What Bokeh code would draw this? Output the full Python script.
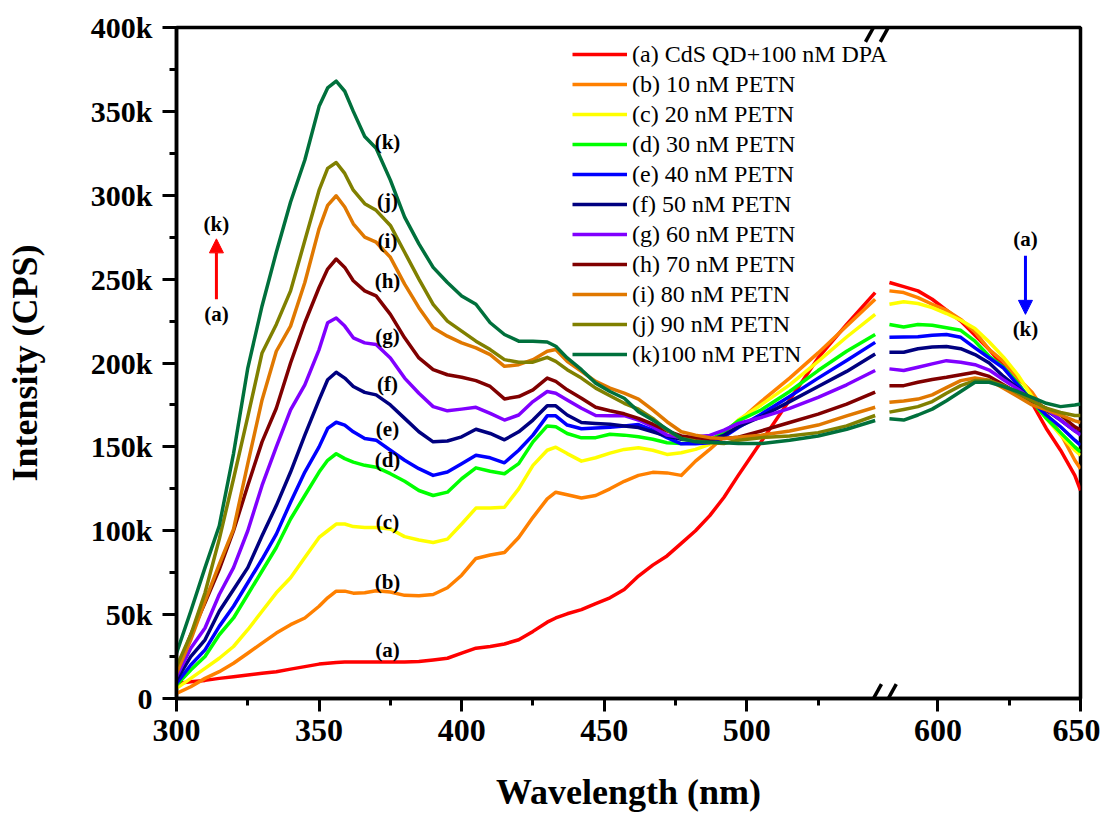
import math
from bokeh.plotting import figure
from bokeh.models import (FixedTicker, Legend, LegendItem, Label,
                          Arrow, NormalHead, Range1d)
from bokeh.core.properties import value
from bokeh.embed import file_html
from bokeh.resources import INLINE

# ---------------- data (wavelength in nm, intensity in thousands of CPS) -------------
wl_left = [300, 305, 310, 315, 320, 325, 330, 335, 340, 345, 350, 353, 356, 359, 362,
           366, 370, 375, 380, 385, 390, 395, 400, 405, 410, 415, 420, 425, 430, 433,
           437, 442, 447, 452, 457, 462, 467, 472, 477, 482, 487, 492, 497, 505, 515,
           525, 535, 545]
wl_right = [583, 588, 593, 598, 603, 608, 613, 618, 623, 628, 633, 638, 643, 648, 650]

curve_a = [9, 10, 10.8, 12, 13, 14, 15, 16, 17.5, 19, 20.5, 21, 21.5, 21.8, 21.8,
           21.8, 21.8, 21.8, 21.8, 22, 23, 24, 27, 30, 31, 32.5, 35, 40, 45.5, 48,
           50.5, 53, 56.5, 60, 65, 73, 79.5, 85, 92.5, 100, 109, 120, 133, 153, 178,
           203, 223, 242,
           248, 245.5, 243, 238, 231.5, 225, 216.5, 208, 198, 188, 176, 161, 148, 133, 124]
curve_b = [3, 7, 12, 16, 21, 27, 33, 39, 44, 48, 55, 60, 64, 64, 62.8,
           63, 64.2, 63.5, 61.5, 61.3, 62, 66, 73.5, 83.5, 85.5, 87, 96, 108, 119, 123,
           121.5, 119.5, 121, 125, 129.5, 133, 134.8, 134.5, 133, 141.5, 148.5, 156, 165, 177, 191,
           206, 222, 238,
           243, 242, 239, 235, 231.5, 226, 218.5, 208, 201, 191, 182.5, 170, 158, 142, 137]
curve_c = [6, 12, 18, 24, 31, 41, 52, 63, 72, 84, 96, 100, 104, 104, 102.5,
           102, 102, 101, 96.5, 94.5, 93, 95, 104, 113.5, 113.5, 114, 125, 139, 148, 149.8,
           146, 141.5, 143.5, 146.3, 148.5, 149.5, 148, 145.5, 146.5, 148.5, 151.5, 157.5, 166, 175, 187,
           201, 215.5, 229,
           235, 236.5, 235.5, 233, 229.5, 225.5, 220.5, 212.5, 203.5, 193, 180, 167, 157, 148, 145]
curve_d = [8, 17, 25, 38, 48, 62, 76, 90, 107, 121, 135, 142, 145.9, 143, 140.9,
           139, 137.9, 134, 129.5, 124, 121, 123, 131, 137.5, 135.5, 134, 140, 153, 162.5, 162,
           158, 155.4, 155.5, 157.5, 157, 156, 154.5, 152.5, 152, 152.5, 154, 159, 165.5, 172, 183,
           195.5, 207, 217,
           223, 221.5, 223, 222.5, 221, 219.5, 213, 204, 197.5, 188, 177, 167, 158.5, 150, 147]
curve_e = [9, 20, 29, 43, 55, 69, 83, 98, 117, 135, 150, 161, 164.7, 163, 159,
           155, 154, 148, 142, 137, 133, 135, 140, 145, 143.5, 140.5, 148, 157, 168.5, 168.5,
           163, 160.8, 161.2, 161.7, 162.5, 163.3, 160, 155.5, 151.8, 151.8, 152.5, 156, 161.5, 169.5, 180,
           191, 201.5, 212.3,
           215.3, 215.5, 215.6, 216.5, 217, 215.3, 209, 203, 197, 187, 177, 169, 162, 154, 151]
curve_f = [11, 25, 35, 52, 65, 78, 97, 115, 135, 157, 178, 190, 194.5, 191, 186,
           182.5, 181, 175, 167, 159, 153, 153.5, 156, 160.5, 158, 154.2, 159, 166, 174.5, 174.5,
           169, 164.5, 164, 163.5, 162.5, 161.5, 159, 156.5, 154.5, 154, 154, 157, 162, 168, 177,
           186, 195, 205.4,
           206.4, 206.4, 208.5, 209.5, 209.8, 208.5, 205, 200, 192, 185, 178, 172, 166, 159.5, 157.8]
curve_g = [13, 30, 42, 62, 78, 100, 127, 150, 172, 187, 208, 224, 226.8, 222, 215,
           212, 211, 203, 191, 182, 174, 171.5, 172.5, 173.6, 170, 166, 169, 177, 183, 182,
           178, 173, 168.7, 168.5, 168.7, 166, 162, 157, 155.5, 156, 156.8, 160, 164, 167.5, 173,
           179.5, 187, 195.5,
           196.5, 195.5, 197.5, 199.5, 201.4, 200.5, 199, 195.8, 190, 184.5, 178, 172.5, 166, 159.5, 157]
curve_h = [16, 38, 57, 77, 100, 127, 153, 173, 200, 224, 245, 256, 262, 257, 249,
           243, 240, 229, 215, 203, 196, 193, 191.5, 189.5, 186, 178.6, 180, 184, 191, 189,
           184, 179, 173.6, 171.5, 169.7, 167, 163.5, 159.5, 156.5, 155.3, 154.8, 155, 155.8, 159.5, 164.5,
           169.5, 175.5, 182.6,
           186.5, 186.5, 188.5, 190.2, 191.5, 193, 194.5, 192, 187, 182, 177, 173, 169, 162, 160]
curve_i = [15, 35, 58, 80, 101, 140, 178, 207, 222, 248, 280, 294, 299.7, 293, 283,
           275, 272, 263, 247, 233, 221, 216, 212, 209, 205, 198, 199, 202, 207, 208,
           201, 195, 189, 185, 182, 178.5, 172, 165, 159, 157, 155.5, 155, 155.8, 157, 159.5,
           163, 168.5, 173.6,
           176.6, 177.4, 178.5, 181, 185.3, 189.5, 191, 189.7, 185, 180, 175, 172, 169, 165.5, 164.5]
curve_j = [19, 38, 63, 95, 131, 168, 206, 223, 243, 273, 303, 316, 319.5, 313, 303,
           295, 291, 282, 266, 250, 235, 225, 219, 213, 208, 202, 200.4, 200.5, 203.4, 201,
           196, 191, 185, 180.5, 176, 172.5, 167, 160, 155, 153.5, 152.5, 152, 154, 155.5, 156.5,
           158.5, 162.5, 168.7,
           170.7, 172.3, 174, 177, 182, 186.5, 189.5, 189.5, 186.5, 182, 177.5, 173, 170.5, 168.7, 168.7]
curve_k = [27, 52, 78, 103, 146, 197, 234, 266, 296, 321, 353, 364, 368, 362, 350,
           335, 328, 309, 287, 271, 257, 248, 240, 235, 224, 217, 213, 213, 212.5, 210,
           203, 196, 188, 183, 179, 171, 166, 160.5, 155, 153, 152.8, 152.5, 152, 152, 154,
           156.5, 160.5, 165.7,
           166.7, 166, 169, 172.5, 177.5, 183, 188.5, 188.5, 186, 183, 179.5, 176, 174, 175, 175.6]

series_labels = ["(a) CdS QD+100 nM DPA", "(b) 10 nM PETN", "(c) 20 nM PETN",
                 "(d) 30 nM PETN", "(e) 40 nM PETN", "(f) 50 nM PETN", "(g) 60 nM PETN",
                 "(h) 70 nM PETN", "(i) 80 nM PETN", "(j) 90 nM PETN", "(k)100 nM PETN"]
series_colors = ["#FF0000", "#FF8000", "#FFFF00", "#00FF00", "#0000FF", "#000080",
                 "#8000FF", "#800000", "#E07800", "#808000", "#00703C"]
all_curves = [curve_a, curve_b, curve_c, curve_d, curve_e, curve_f, curve_g,
              curve_h, curve_i, curve_j, curve_k]

tag_texts = ["(a)", "(b)", "(c)", "(d)", "(e)", "(f)", "(g)", "(h)", "(i)", "(j)", "(k)"]
tag_y = [28.8, 69.4, 105, 141.9, 160.8, 187.6, 216.3, 249, 272.9, 296.7, 332]
tag_x = 374

x_major = [300, 350, 400, 450, 500, 600, 650]
x_minor = [325, 375, 425, 475, 525, 625]
y_major = [0, 50, 100, 150, 200, 250, 300, 350, 400]
y_minor = [25, 75, 125, 175, 225, 275, 325, 375]
y_tick_labels = ["0", "50k", "100k", "150k", "200k", "250k", "300k", "350k", "400k"]

# ---------------- broken axis mapping ----------------
SHIFT = 33.0        # nm hidden between the two axis segments
BREAK_AT = 547.0    # axis position of the break


def to_axis(w):
    return w if w < 560 else w - SHIFT


SERIF = "Liberation Serif"

p = figure(width=1100, height=814, output_backend="svg", toolbar_location=None,
           x_range=Range1d(300, to_axis(650)), y_range=Range1d(0, 400),
           min_border_left=176, min_border_right=20, min_border_top=27,
           min_border_bottom=116)
p.xgrid.visible = False
p.ygrid.visible = False
p.outline_line_color = "black"
p.outline_line_width = 3.5
p.background_fill_color = "white"
p.border_fill_color = "white"

renderers = []
for vals, col in zip(all_curves, series_colors):
    n = len(wl_left)
    xs = [to_axis(w) for w in wl_left] + [math.nan] + [to_axis(w) for w in wl_right]
    ys = list(vals[:n]) + [math.nan] + list(vals[n:])
    r = p.line(xs, ys, line_color=col, line_width=3.5, line_join="round")
    renderers.append(r)

# curve tags
p.text(x=[tag_x] * len(tag_texts), y=tag_y, text=tag_texts,
       text_font=value(SERIF), text_font_style="bold", text_font_size="21px",
       text_align="center", text_baseline="middle", text_color="black")

# arrows
p.add_layout(Arrow(end=NormalHead(size=14, fill_color="#FF0000", line_color="#FF0000"),
                   x_start=314, y_start=238, x_end=314, y_end=274,
                   line_color="#FF0000", line_width=3))
p.add_layout(Arrow(end=NormalHead(size=14, fill_color="#0000FF", line_color="#0000FF"),
                   x_start=597.7, y_start=264, x_end=597.7, y_end=229,
                   line_color="#0000FF", line_width=3))
for (lx, ly, lt) in [(314, 283, "(k)"), (314, 229.5, "(a)"), (597.7, 274, "(a)"), (597.7, 220, "(k)")]:
    p.add_layout(Label(x=lx, y=ly, text=lt, text_font=SERIF, text_font_style="bold",
                       text_font_size="21px", text_align="center", text_baseline="middle",
                       text_color="black"))

# axes
p.xaxis.ticker = FixedTicker(ticks=[to_axis(v) for v in x_major],
                             minor_ticks=[to_axis(v) for v in x_minor])
p.xaxis.major_label_overrides = {to_axis(v): str(v) for v in x_major}
p.yaxis.ticker = FixedTicker(ticks=y_major, minor_ticks=y_minor)
p.yaxis.major_label_overrides = {v: t for v, t in zip(y_major, y_tick_labels)}

for ax in (p.xaxis[0], p.yaxis[0]):
    ax.axis_line_width = 3.5
    ax.major_tick_line_width = 3
    ax.minor_tick_line_width = 3
    ax.major_tick_in = 0
    ax.minor_tick_in = 0
    ax.major_label_text_font = SERIF
    ax.major_label_text_font_style = "bold"
    ax.major_label_text_color = "black"
    ax.axis_label_text_font = SERIF
    ax.axis_label_text_font_style = "bold"
    ax.axis_label_text_font_size = "36px"
    ax.axis_label_text_color = "black"

p.xaxis.major_tick_out = 13
p.xaxis.minor_tick_out = 7
p.xaxis.major_label_text_font_size = "32px"
p.xaxis.major_label_standoff = 8
p.xaxis.axis_label = "Wavelength (nm)"
p.xaxis.axis_label_standoff = 28

p.yaxis.major_tick_out = 14
p.yaxis.minor_tick_out = 7
p.yaxis.major_label_text_font_size = "30px"
p.yaxis.major_label_standoff = 10
p.yaxis.axis_label = "Intensity (CPS)"
p.yaxis.axis_label_standoff = 43

# axis break marks
for yb, dy in [(0, 8.6), (400, 8.6)]:
    for dx in (-2.6, 2.6):
        p.add_layout(Arrow(end=None, x_start=BREAK_AT + dx - 2.8, y_start=yb - dy,
                           x_end=BREAK_AT + dx + 2.8, y_end=yb + dy,
                           line_color="black", line_width=3.5))

# legend
items = [LegendItem(label=lab, renderers=[r]) for lab, r in zip(series_labels, renderers)]
legend = Legend(items=items, location=(396, 330), padding=0, margin=0,
                border_line_color=None, background_fill_alpha=0,
                label_text_font=SERIF, label_text_font_size="24px",
                label_text_color="black", glyph_width=55, glyph_height=28,
                label_height=28, label_standoff=5, spacing=2)
p.add_layout(legend)

open("out.html", "w").write(file_html(p, INLINE))
